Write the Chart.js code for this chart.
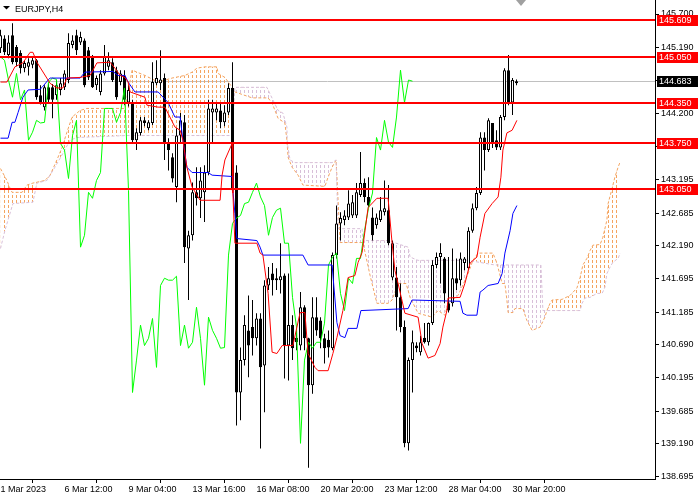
<!DOCTYPE html>
<html>
<head>
<meta charset="utf-8">
<script src="https://cdn.jsdelivr.net/npm/chart.js@4/dist/chart.umd.min.js"></script>
<style>
  html, body { margin: 0; padding: 0; background: #fff; overflow: hidden; }
  canvas { display: block; }
</style>
</head>
<body>
<canvas id="chart" width="700" height="500"></canvas>
<script>
// EURJPY H4 candles, bar 0 .. 129
const opens = [
  145.18,145.33,145.08,145.38,145.20,145.11,144.88,144.90,144.93,145.00,
  144.47,144.29,144.59,144.59,144.47,144.55,144.59,144.70,145.23,145.38,
  145.27,145.30,145.15,145.05,144.62,144.52,144.80,144.90,144.97,144.85,
  144.67,144.77,144.36,144.36,143.79,143.90,144.09,143.97,144.05,144.65,
  144.65,144.73,143.74,143.53,143.08,143.86,144.06,142.15,142.35,143.00,
  142.91,143.00,143.30,144.21,144.21,144.24,144.06,144.21,144.58,143.30,
  139.97,140.46,140.91,140.96,140.79,141.09,140.38,141.59,141.77,141.70,
  141.67,141.74,140.68,140.99,140.80,140.68,141.26,140.79,140.08,141.11,
  141.06,140.79,140.77,140.64,142.05,142.53,142.58,142.62,142.65,142.65,
  142.96,143.14,142.93,142.62,142.50,142.58,142.70,142.73,141.71,141.71,
  141.41,140.96,139.20,140.46,140.68,140.58,140.80,140.73,141.02,141.90,
  142.02,142.00,141.32,141.32,141.70,141.67,141.93,141.85,142.42,142.76,
  142.99,143.83,143.64,144.05,143.79,143.68,144.14,144.85,144.36,144.65
];
const highs = [
  145.46,145.38,145.38,145.56,145.23,145.15,145.00,145.03,145.05,145.02,
  144.62,144.62,144.65,144.64,144.70,144.73,144.85,145.41,145.38,145.46,
  145.43,145.33,145.20,145.08,144.77,144.85,145.23,145.12,145.03,144.90,
  144.85,144.85,144.62,144.40,143.97,144.14,144.14,144.09,144.97,145.00,
  145.15,144.80,143.82,143.59,143.97,144.20,144.17,142.42,143.15,143.38,
  143.38,143.41,144.40,144.40,144.35,144.35,144.32,144.65,144.97,143.41,
  140.65,141.14,141.44,141.37,141.17,141.17,141.67,141.87,141.93,141.85,
  142.23,141.77,141.77,141.14,140.91,141.49,141.29,140.80,141.41,141.41,
  141.11,140.86,140.91,142.09,142.80,142.70,142.73,143.03,142.96,143.14,
  143.61,143.21,143.23,142.77,142.68,142.93,143.18,143.11,142.27,141.87,
  141.62,141.06,140.50,140.91,140.73,140.83,141.02,141.03,141.97,142.09,
  142.23,142.02,142.02,142.15,142.00,142.09,142.02,142.47,142.83,143.08,
  143.91,143.91,144.12,144.05,143.94,144.17,144.88,145.08,144.73,144.71
];
const lows = [
  145.11,145.08,145.03,144.94,144.91,144.80,144.82,144.77,144.88,144.40,
  144.33,144.24,144.35,144.12,144.40,144.47,144.55,144.65,145.18,145.08,
  145.23,144.59,144.70,144.58,144.55,144.47,144.77,144.85,144.67,144.40,
  144.62,144.32,144.30,143.76,143.64,143.86,144.00,143.94,144.02,144.62,
  144.55,143.49,143.33,143.15,142.85,143.76,141.93,141.37,142.27,142.80,
  142.61,142.55,143.26,143.76,144.09,143.97,144.00,144.17,143.00,139.47,
  139.55,140.38,140.20,140.53,140.68,139.12,139.67,141.52,141.44,141.52,
  141.47,140.18,140.15,140.46,140.61,140.61,140.61,138.83,139.95,140.83,
  140.64,140.41,140.50,140.61,142.00,142.27,142.50,142.58,142.61,142.61,
  142.93,142.85,142.77,142.27,142.45,142.55,142.65,142.20,141.67,140.91,
  140.88,139.14,139.09,139.97,140.58,140.53,140.71,140.68,140.99,141.85,
  141.62,141.32,141.18,141.27,141.52,141.59,141.82,141.82,142.39,142.73,
  142.96,143.33,143.61,143.67,143.64,143.64,144.09,144.32,144.17,144.62
];
const closes = [
  145.38,145.12,145.27,144.97,144.97,144.88,144.96,144.97,145.00,144.44,
  144.36,144.59,144.40,144.40,144.62,144.65,144.80,145.26,145.30,145.15,
  145.35,144.62,144.74,144.59,144.73,144.80,145.05,145.00,144.70,144.44,
  144.80,144.40,144.55,143.79,143.91,144.09,144.05,144.06,144.67,144.73,
  144.71,143.74,143.64,143.21,143.86,144.09,142.17,142.35,143.00,142.91,
  143.18,143.30,144.27,144.27,144.27,144.06,144.21,144.58,143.03,139.97,
  140.46,140.99,140.68,140.79,141.09,140.35,141.59,141.70,141.67,141.67,
  141.73,140.68,140.99,140.64,140.73,141.26,140.79,140.08,141.11,140.91,
  140.79,140.64,140.65,142.05,142.53,142.61,142.65,142.83,142.85,143.00,
  143.14,142.93,142.80,142.35,142.62,142.73,142.76,142.23,142.23,141.41,
  140.96,139.20,140.46,140.73,140.64,140.73,140.73,141.02,141.90,142.02,
  142.08,141.47,141.21,141.70,141.62,142.00,142.00,142.42,142.76,142.99,
  143.83,143.64,144.09,143.76,143.68,144.14,144.85,144.36,144.70,144.683
];

// Ichimoku lines (bar index, price)
const tenkanIdx = [0,1.6,3.6,5.6,7.4,8.1,9.1,12.4,14.1,15.6,16.6,19.9,22.4,24.1,27.4,28.6,29.9,31.1,31.9,32.4,36.1,36.6,39.4,41.1,43.6,44.9,45.6,46.6,47.9,49.9,54.9,55.4,56.1,57.9,58.1,58.6,64.1,64.9,65.6,66.9,67.9,69.1,70.4,73.1,74.9,76.1,76.9,78.6,79.4,81.9,83.1,84.1,85.6,86.9,88.6,89.4,90.4,91.9,94.1,96.9,97.9,98.6,99.4,101.1,104.4,105.4,106.9,108.6,109.9,110.6,111.6,111.9,114.9,116.1,117.4,119.1,119.9,121.1,122.9,124.4,125.1,125.6,126.6,127.9,129.1];
const tenkanVal = [144.67,144.67,144.90,144.96,145.12,145.12,144.97,144.65,144.58,144.58,144.73,144.74,144.77,144.96,144.97,144.88,144.77,144.74,144.67,144.52,144.44,144.32,144.29,144.29,143.99,143.94,143.79,143.38,143.08,142.88,142.88,143.26,143.49,143.74,142.99,142.23,142.23,142.08,142.05,141.47,140.58,140.56,140.68,140.68,141.18,141.18,140.56,140.35,140.30,140.30,140.56,140.80,141.21,141.71,141.74,141.94,142.09,142.77,142.91,142.91,142.23,141.82,141.62,141.17,141.11,140.71,140.49,140.53,140.71,140.96,141.21,141.40,141.41,141.62,141.93,142.02,142.32,142.68,142.83,142.93,143.23,143.64,143.90,143.94,144.09];

const kijunIdx = [0,1.9,2.9,3.6,4.4,5.6,6.9,9.9,10.4,11.9,12.4,19.9,21.1,28.1,29.4,31.1,31.9,33.6,39.4,41.9,43.6,44.9,45.6,46.6,47.9,51.9,52.9,57.9,58.1,58.6,59.1,64.1,64.9,65.6,75.6,76.9,82.9,84.1,84.9,86.1,86.9,89.1,90.1,101.9,102.9,114.9,115.6,116.6,119.1,119.9,120.6,121.9,124.4,125.4,126.1,127.4,128.1,129.1];
const kijunVal = [143.82,143.82,144.06,144.06,144.21,144.44,144.55,144.56,144.59,144.70,144.73,144.73,144.82,144.83,144.77,144.77,144.67,144.52,144.52,144.36,144.14,144.14,143.79,143.38,143.30,143.30,143.26,143.24,143.03,142.68,142.30,142.27,142.17,142.05,142.05,141.90,141.90,141.03,140.83,140.80,140.94,140.94,141.21,141.24,141.37,141.35,141.17,141.14,141.14,141.49,141.52,141.59,141.62,141.77,142.08,142.42,142.68,142.80];

const spanAIdx = [0,1.6,2.4,2.9,5.4,6.6,8.1,11.1,12.4,14.1,15.4,16.6,17.9,19.9,21.6,31.1,32.9,36.1,39.4,42.9,46.1,47.9,49.1,51.1,54.1,54.4,56.1,57.9,58.6,62.9,66.9,67.9,69.4,71.1,71.6,71.9,72.9,74.4,75.6,81.1,81.9,82.9,83.9,84.9,90.6,92.4,94.1,96.9,97.9,99.4,101.4,102.4,104.4,107.9,109.4,111.1,111.9,114.4,116.9,118.1,119.4,123.1,124.1,125.4,126.1,126.6,126.9,128.1,128.6,130.6,131.6,132.9,134.1,134.9,136.1,136.6,137.4,137.9,140.4,142.4,144.1,144.9,145.6,146.6,147.4,148.1,149.9,150.6,151.6,151.9,152.9,153.6,154.4,154.9];
const spanAVal = [143.36,143.18,143.06,143.00,143.00,143.11,143.14,143.18,143.26,143.49,143.68,143.91,144.14,144.24,144.27,144.27,144.85,144.77,144.67,144.73,144.77,144.82,144.88,144.90,144.90,144.80,144.74,144.59,144.52,144.43,144.43,144.35,144.12,144.05,143.79,143.53,143.38,143.26,143.11,143.09,143.23,143.38,143.49,142.24,142.24,141.74,141.32,141.32,141.37,141.62,141.62,141.41,141.17,141.11,141.21,141.14,141.32,141.44,141.77,141.97,142.08,142.08,141.93,141.62,141.62,141.37,141.18,141.18,141.24,141.24,141.06,140.91,140.94,140.96,141.11,141.21,141.32,141.37,141.38,141.44,141.55,141.71,141.90,142.00,142.12,142.20,142.21,142.32,142.58,142.83,143.06,143.23,143.38,143.46];

const spanBIdx = [0,1.1,3.1,8.1,9.1,11.6,13.6,15.6,17.4,19.1,31.6,57.9,58.6,66.6,68.1,69.4,70.6,71.6,71.7,72.4,73.6,82.9,83.9,84.4,90.4,90.6,96.9,101.9,102.4,104.4,116.9,123.6,135.1,135.6,144.9,145.4,146.1,147.4,149.1,150.4,151.1,151.6,152.4,153.1,154.4,154.9];
const spanBVal = [142.15,142.42,142.83,142.85,143.14,143.18,143.38,143.59,143.79,143.83,143.86,143.86,144.59,144.59,144.40,144.24,144.20,143.99,143.74,143.49,143.45,143.45,143.49,142.45,142.45,142.27,142.27,142.17,142.02,141.97,141.97,141.90,141.90,141.21,141.21,141.32,141.40,141.41,141.47,141.47,141.56,141.77,141.87,141.94,142.00,142.08];

const chikouShift = 26;
const levelPrices = [145.609, 145.050, 144.350, 143.750, 143.050];
const bidPrice = 144.683;
const yTicks = [145.700,145.190,144.695,144.200,143.690,143.195,142.685,142.190,141.695,141.185,140.690,140.195,139.685,139.190,138.695];
const xTickIdx = [0,16,32,48,64,80,96,112,128];
const xTickLabels = ['1 Mar 2023','6 Mar 12:00','9 Mar 04:00','13 Mar 16:00','16 Mar 08:00','20 Mar 20:00','23 Mar 12:00','28 Mar 04:00','30 Mar 20:00'];

const canvas = document.getElementById('chart');
const ctx = canvas.getContext('2d');

// vertical dotted hatch like the terminal's cloud
function hatch(color) {
  const c = document.createElement('canvas');
  c.width = 4; c.height = 5;
  const g = c.getContext('2d');
  g.fillStyle = color;
  g.fillRect(0, 0, 1, 3);
  return ctx.createPattern(c, 'repeat');
}

const pts = (xs, ys) => xs.map((x, i) => ({ x: x, y: ys[i] }));
const bars = closes.map((_, i) => i);
const wickData = bars.map(i => ({ x: i, y: [lows[i], highs[i]] }));
const bodyData = bars.map(i => ({ x: i, y: [opens[i], closes[i]] }));
const bodyFill = bars.map(i => closes[i] >= opens[i] ? '#ffffff' : '#000000');
const chikouData = bars.map(i => ({ x: i - chikouShift, y: closes[i] })).filter(p => p.x >= 0);

const FONT = "'Liberation Sans', Arial, sans-serif";

const overlay = {
  id: 'overlay',
  beforeDatasetsDraw(chart) {
    const { ctx, chartArea: a, scales: { y } } = chart;
    const py = Math.round(y.getPixelForValue(bidPrice)) + 0.5;
    ctx.save();
    ctx.strokeStyle = '#c0c0c0';
    ctx.lineWidth = 1;
    ctx.beginPath(); ctx.moveTo(a.left, py); ctx.lineTo(a.right, py); ctx.stroke();
    ctx.restore();
  },
  afterDatasetsDraw(chart) {
    const { ctx, chartArea: a, scales: { y } } = chart;
    ctx.save();
    ctx.strokeStyle = '#ff0000';
    ctx.lineWidth = 2;
    levelPrices.forEach(p => {
      const py = Math.round(y.getPixelForValue(p));
      ctx.beginPath(); ctx.moveTo(a.left, py); ctx.lineTo(a.right, py); ctx.stroke();
    });
    ctx.restore();
  },
  afterDraw(chart) {
    const { ctx, chartArea: a, scales: { y } } = chart;
    ctx.save();
    ctx.font = '9px ' + FONT;
    ctx.textBaseline = 'middle';
    ctx.textAlign = 'left';
    const box = (p, bg) => {
      const py = Math.round(y.getPixelForValue(p));
      ctx.fillStyle = bg;
      ctx.fillRect(a.right + 2, py - 5, 41, 11);
      ctx.fillStyle = '#ffffff';
      ctx.fillText(p.toFixed(3), a.right + 4, py + 0.5);
    };
    levelPrices.forEach(p => box(p, '#ff0000'));
    box(bidPrice, '#000000');

    // symbol caption
    ctx.fillStyle = '#000';
    ctx.beginPath(); ctx.moveTo(3, 6); ctx.lineTo(10, 6); ctx.lineTo(6.5, 9.5); ctx.closePath(); ctx.fill();
    ctx.textBaseline = 'alphabetic';
    ctx.fillText('EURJPY,H4', 15, 12);

    // chart shift marker
    ctx.fillStyle = '#a0a0a0';
    ctx.beginPath(); ctx.moveTo(516, 0); ctx.lineTo(526, 0); ctx.lineTo(521, 6); ctx.closePath(); ctx.fill();
    ctx.restore();
  }
};

const axisGrid = { display: true, drawOnChartArea: false, drawTicks: true, tickLength: 4, color: '#000', tickColor: '#000' };
const axisBorder = { display: true, color: '#000', width: 1 };

new Chart(ctx, {
  type: 'line',
  data: {
    datasets: [
      {
        label: 'Senkou A', data: pts(spanAIdx, spanAVal), order: 10,
        borderColor: '#f4a460', borderWidth: 1, borderDash: [3, 2], pointRadius: 0,
        fill: { target: '+1', above: hatch('#f4a460'), below: hatch('#d8bfd8') }
      },
      {
        label: 'Senkou B', data: pts(spanBIdx, spanBVal), order: 9,
        borderColor: '#d8bfd8', borderWidth: 1, borderDash: [3, 2], pointRadius: 0, fill: false
      },
      {
        type: 'bar', label: 'wick', data: wickData, order: 6,
        backgroundColor: '#000', borderWidth: 0, barThickness: 1, grouped: false, inflateAmount: 0
      },
      {
        type: 'bar', label: 'body', data: bodyData, order: 5,
        backgroundColor: bodyFill, borderColor: '#000', borderWidth: 1, borderSkipped: false,
        barThickness: 3, minBarLength: 1, grouped: false, inflateAmount: 0
      },
      { label: 'Chikou', data: chikouData, order: 3, borderColor: '#00ff00', borderWidth: 1, pointRadius: 0, fill: false },
      { label: 'Kijun', data: pts(kijunIdx, kijunVal), order: 2, borderColor: '#0000ff', borderWidth: 1, pointRadius: 0, fill: false },
      { label: 'Tenkan', data: pts(tenkanIdx, tenkanVal), order: 1, borderColor: '#ff0000', borderWidth: 1, pointRadius: 0, fill: false }
    ]
  },
  options: {
    responsive: false,
    animation: false,
    devicePixelRatio: 1,
    events: [],
    layout: { padding: 0, autoPadding: false },
    plugins: { legend: { display: false }, tooltip: { enabled: false }, title: { display: false } },
    scales: {
      x: {
        type: 'linear', min: -0.125, max: 163.625, offset: false,
        grid: axisGrid, border: axisBorder,
        ticks: {
          autoSkip: false, maxRotation: 0, minRotation: 0, align: 'start', padding: 1,
          color: '#000', font: { family: FONT, size: 9 },
          callback: (v, i) => xTickLabels[i]
        },
        afterBuildTicks: s => { s.ticks = xTickIdx.map(v => ({ value: v })); },
        afterFit: s => { s.height = 21; s.paddingLeft = 0; s.paddingRight = 0; }
      },
      y: {
        type: 'linear', position: 'right', min: 138.66, max: 145.912,
        grid: axisGrid, border: axisBorder,
        ticks: {
          autoSkip: false, padding: 2, color: '#000', font: { family: FONT, size: 9 },
          callback: v => Number(v).toFixed(3)
        },
        afterBuildTicks: s => { s.ticks = yTicks.map(v => ({ value: v })); },
        afterFit: s => { s.width = 45; s.paddingTop = 0; s.paddingBottom = 0; }
      }
    }
  },
  plugins: [overlay]
});
</script>
</body>
</html>
